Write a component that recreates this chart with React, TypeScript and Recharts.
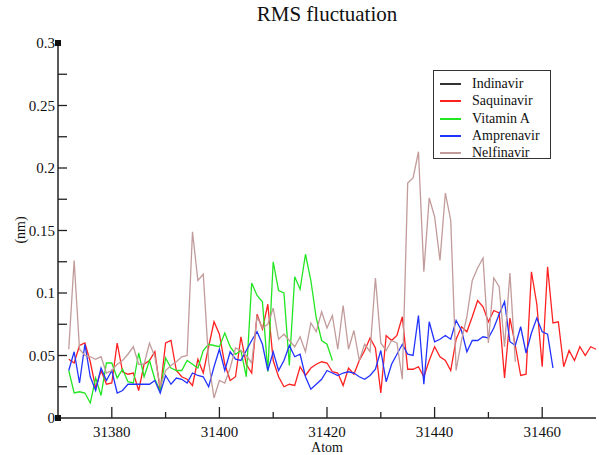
import { LineChart, Line, XAxis, YAxis } from 'recharts'

const atoms = [
  31372, 31373, 31374, 31375, 31376, 31377, 31378, 31379, 31380, 31381,
  31382, 31383, 31384, 31385, 31386, 31387, 31388, 31389, 31390, 31391,
  31392, 31393, 31394, 31395, 31396, 31397, 31398, 31399, 31400, 31401,
  31402, 31403, 31404, 31405, 31406, 31407, 31408, 31409, 31410, 31411,
  31412, 31413, 31414, 31415, 31416, 31417, 31418, 31419, 31420, 31421,
  31422, 31423, 31424, 31425, 31426, 31427, 31428, 31429, 31430, 31431,
  31432, 31433, 31434, 31435, 31436, 31437, 31438, 31439, 31440, 31441,
  31442, 31443, 31444, 31445, 31446, 31447, 31448, 31449, 31450, 31451,
  31452, 31453, 31454, 31455, 31456, 31457, 31458, 31459, 31460, 31461,
  31462, 31463, 31464, 31465, 31466, 31467, 31468, 31469, 31470,
]

const saquinavir = [
  0.047, 0.044, 0.058, 0.06, 0.045, 0.024, 0.038, 0.027, 0.028, 0.06,
  0.037, 0.035, 0.036, 0.022, 0.043, 0.046, 0.053, 0.022, 0.06, 0.062,
  0.038, 0.033, 0.031, 0.026, 0.047, 0.036, 0.057, 0.077, 0.067, 0.043,
  0.03, 0.033, 0.065, 0.043, 0.036, 0.083, 0.071, 0.091, 0.046, 0.033,
  0.025, 0.027, 0.026, 0.041, 0.034, 0.04, 0.043, 0.045, 0.044, 0.037,
  0.036, 0.026, 0.04, 0.035, 0.046, 0.054, 0.064, 0.056, 0.02, 0.066,
  0.062, 0.066, 0.081, 0.039, 0.039, 0.041, 0.033, 0.046, 0.057, 0.049,
  0.046, 0.038, 0.063, 0.073, 0.069, 0.081, 0.094, 0.089, 0.077, 0.086,
  0.084, 0.032, 0.08, 0.058, 0.034, 0.035, 0.117, 0.091, 0.041, 0.121,
  0.076, 0.077, 0.041, 0.054, 0.046, 0.057, 0.05, 0.057, 0.055,
]

const vitaminA = [
  0.038, 0.02, 0.021, 0.02, 0.012, 0.032, 0.018, 0.044, 0.044, 0.032,
  0.039, 0.029, 0.028, 0.052, 0.033, 0.046, 0.031, 0.022, 0.048, 0.04,
  0.038, 0.038, 0.046, 0.043, 0.04, 0.054, 0.059, 0.058, 0.057, 0.068,
  0.057, 0.051, 0.054, 0.033, 0.108, 0.098, 0.093, 0.037, 0.125, 0.102,
  0.1, 0.042, 0.113, 0.103, 0.131, 0.11, 0.08, 0.062, 0.059, 0.046,
]

const amprenavir = [
  0.038, 0.053, 0.028, 0.059, 0.033, 0.022, 0.04, 0.03, 0.038, 0.02,
  0.022, 0.027, 0.027, 0.027, 0.027, 0.027, 0.03, 0.02, 0.034, 0.027,
  0.032, 0.031, 0.028, 0.036, 0.034, 0.033, 0.025, 0.041, 0.055, 0.038,
  0.053, 0.047, 0.046, 0.054, 0.062, 0.069, 0.059, 0.038, 0.053, 0.038,
  0.046, 0.058, 0.049, 0.051, 0.033, 0.023, 0.027, 0.031, 0.038, 0.036,
  0.034, 0.036, 0.037, 0.036, 0.033, 0.031, 0.034, 0.039, 0.054, 0.029,
  0.043, 0.051, 0.059, 0.051, 0.05, 0.082, 0.027, 0.077, 0.061, 0.063,
  0.066, 0.063, 0.078, 0.07, 0.053, 0.062, 0.062, 0.065, 0.064, 0.072,
  0.083, 0.093, 0.061, 0.058, 0.073, 0.052, 0.068, 0.08, 0.069, 0.067,
  0.04,
]

const nelfinavir = [
  0.055, 0.126, 0.055, 0.05, 0.049, 0.047, 0.049, 0.036, 0.038, 0.043,
  0.046, 0.051, 0.057, 0.043, 0.043, 0.06, 0.049, 0.025, 0.038, 0.042,
  0.045, 0.049, 0.05, 0.149, 0.11, 0.115, 0.045, 0.016, 0.03, 0.028,
  0.04, 0.056, 0.054, 0.05, 0.044, 0.081, 0.072, 0.075, 0.088, 0.063,
  0.067, 0.062, 0.057, 0.065, 0.053, 0.076, 0.069, 0.085, 0.072, 0.082,
  0.055, 0.09, 0.055, 0.07, 0.046, 0.059, 0.053, 0.112, 0.06, 0.054,
  0.062, 0.06, 0.031, 0.188, 0.192, 0.213, 0.117, 0.176, 0.161, 0.126,
  0.18, 0.158, 0.038, 0.062, 0.081, 0.11, 0.12, 0.128, 0.06, 0.112,
  0.105, 0.057, 0.116, 0.045,
]

const xTicks = [31380, 31390, 31400, 31410, 31420, 31430, 31440, 31450, 31460]
const yTicks = [0, 0.025, 0.05, 0.075, 0.1, 0.125, 0.15, 0.175, 0.2, 0.225, 0.25, 0.275, 0.3]

const seriesNames = ['Indinavir', 'Saquinavir', 'Vitamin A', 'Amprenavir', 'Nelfinavir']
const seriesKeys = ['indinavir', 'saquinavir', 'vitaminA', 'amprenavir', 'nelfinavir']
const seriesColors = ['#333333', '#ff2020', '#22e622', '#2233ff', '#c29b9b']

const data = atoms.map((atom, i) => ({
  atom,
  saquinavir: saquinavir[i],
  vitaminA: vitaminA[i],
  amprenavir: amprenavir[i],
  nelfinavir: nelfinavir[i],
}))

const FONT = '"Liberation Serif", "DejaVu Serif", serif'
const AXIS = '#222'

const isEnd = (v: number) => v === 0 || v === 0.3
const fmt = (v: number) => String(Number(v.toFixed(3)))

function BottomTick({ x, y, payload }: any) {
  const major = payload.value % 20 === 0
  return (
    <g>
      <line x1={x} x2={x} y1={y} y2={y - (major ? 11 : 6)} stroke={AXIS} strokeWidth={1.3} />
      {major && (
        <text x={x} y={y + 19} textAnchor="middle" fontSize={15} fontFamily={FONT} fill="#111">
          {payload.value}
        </text>
      )}
    </g>
  )
}

function TopTick({ x, y, payload }: any) {
  const major = payload.value % 20 === 0
  return <line x1={x} x2={x} y1={y} y2={y + (major ? 11 : 6)} stroke={AXIS} strokeWidth={1.3} />
}

function LeftTick({ x, y, payload }: any) {
  const v = payload.value
  const major = Math.round(v * 1000) % 50 === 0
  return (
    <g>
      {isEnd(v) ? (
        <rect x={x - 3} y={y - 3} width={6} height={6} fill="#111" />
      ) : (
        <line x1={x} x2={x + 9} y1={y} y2={y} stroke={AXIS} strokeWidth={1.3} />
      )}
      {major && (
        <text x={x - 3} y={y + 5} textAnchor="end" fontSize={15} fontFamily={FONT} fill="#111">
          {fmt(v)}
        </text>
      )}
    </g>
  )
}

function RightTick({ x, y, payload }: any) {
  const v = payload.value
  return isEnd(v) ? (
    <rect x={x - 3} y={y - 3} width={6} height={6} fill="#111" />
  ) : (
    <line x1={x} x2={x - 8} y1={y} y2={y} stroke={AXIS} strokeWidth={1.3} />
  )
}

export default function App() {
  return (
    <div style={{ position: 'absolute', left: 0, top: 0, width: 599, height: 455, background: '#fff', fontFamily: FONT }}>
      <div style={{ position: 'absolute', top: 2, left: 58, width: 538, textAlign: 'center', fontSize: 21, color: '#111' }}>
        RMS fluctuation
      </div>
      <div
        style={{
          position: 'absolute',
          left: 21,
          top: 230,
          transform: 'translate(-50%, -50%) rotate(-90deg)',
          fontSize: 14,
          color: '#111',
          whiteSpace: 'nowrap',
        }}
      >
        (nm)
      </div>
      <LineChart width={599} height={455} data={data} margin={{ top: 43, right: 3, left: 0, bottom: 0 }}>
        <XAxis
          xAxisId="b"
          dataKey="atom"
          type="number"
          domain={[31370, 31470]}
          ticks={xTicks}
          interval={0}
          height={37}
          tickSize={0}
          tickMargin={0}
          tickLine={false}
          tick={<BottomTick />}
          axisLine={{ stroke: AXIS, strokeWidth: 1.5 }}
        />
        <XAxis
          xAxisId="t"
          dataKey="atom"
          type="number"
          orientation="top"
          domain={[31370, 31470]}
          ticks={xTicks}
          interval={0}
          height={0}
          tickSize={0}
          tickMargin={0}
          tickLine={false}
          tick={<TopTick />}
          axisLine={{ stroke: AXIS, strokeWidth: 1.5 }}
        />
        <YAxis
          yAxisId="l"
          type="number"
          domain={[0, 0.3]}
          ticks={yTicks}
          interval={0}
          width={58}
          tickSize={0}
          tickMargin={0}
          tickLine={false}
          tick={<LeftTick />}
          axisLine={{ stroke: AXIS, strokeWidth: 1.5 }}
        />
        <YAxis
          yAxisId="r"
          type="number"
          orientation="right"
          domain={[0, 0.3]}
          ticks={yTicks}
          interval={0}
          width={0}
          tickSize={0}
          tickMargin={0}
          tickLine={false}
          tick={<RightTick />}
          axisLine={{ stroke: AXIS, strokeWidth: 1.5 }}
        />
        {seriesKeys.slice(1).map((key, i) => (
          <Line
            key={key}
            xAxisId="b"
            yAxisId="l"
            type="linear"
            dataKey={key}
            name={seriesNames[i + 1]}
            stroke={seriesColors[i + 1]}
            strokeWidth={1.3}
            dot={false}
            isAnimationActive={false}
          />
        ))}
      </LineChart>
      <div
        style={{
          position: 'absolute',
          left: 58,
          top: 441,
          width: 538,
          height: 14,
          lineHeight: '14px',
          textAlign: 'center',
          fontSize: 14,
          color: '#111',
        }}
      >
        Atom
      </div>
      <div
        style={{
          position: 'absolute',
          left: 433,
          top: 70,
          width: 116,
          height: 87,
          border: '1px solid #333',
          background: '#fff',
        }}
      >
        {seriesNames.map((name, i) => {
          const rowTop = Math.round(4 + i * 17.3)
          return (
            <div key={name}>
              <div
                style={{
                  position: 'absolute',
                  left: 6,
                  top: rowTop + 8,
                  width: 21,
                  height: 2,
                  background: seriesColors[i],
                }}
              />
              <div
                style={{
                  position: 'absolute',
                  left: 38,
                  top: rowTop,
                  height: 17,
                  lineHeight: '17px',
                  fontSize: 14,
                  color: '#111',
                  whiteSpace: 'nowrap',
                }}
              >
                {name}
              </div>
            </div>
          )
        })}
      </div>
    </div>
  )
}
